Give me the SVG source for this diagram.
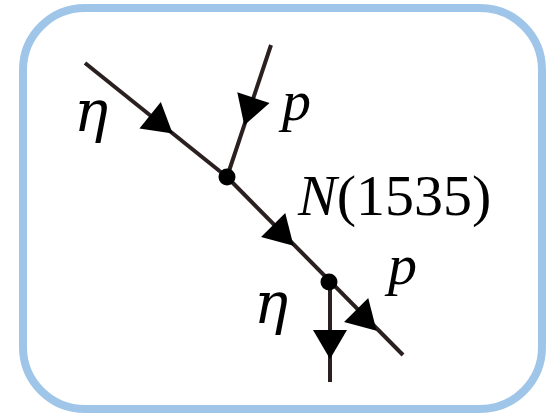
<svg xmlns="http://www.w3.org/2000/svg" xmlns:xlink="http://www.w3.org/1999/xlink" width="550" height="414" viewBox="0 0 550 414">
<style>
.frame{fill:#fff;stroke:#9fc5e8;stroke-width:8}
.ln{stroke:#2b2020;stroke-width:4;fill:none;stroke-linecap:butt}
.ah{fill:#000}
.dot{fill:#000}
.t{font-family:"Liberation Serif","Times New Roman",serif;font-size:58px;fill:#000}
.i{font-style:italic}
.g{font-family:"DejaVu Serif",serif;font-style:italic;font-size:57px;fill:#000}
</style>
<defs>
<path id="ah" d="M15,0 L-14,-17 L-14,17 Z"/>
</defs>
<rect class="frame" x="23" y="8" width="519" height="401" rx="62" ry="62"/>
<g id="connectors">
<line class="ln" x1="85" y1="63" x2="227" y2="177"/>
<line class="ln" x1="271" y1="45" x2="227" y2="177"/>
<line class="ln" x1="227" y1="177" x2="403" y2="355"/>
<line class="ln" x1="330" y1="282" x2="330" y2="382"/>
<use class="ah" xlink:href="#ah" transform="translate(161,124) rotate(39)"/>
<use class="ah" xlink:href="#ah" transform="translate(249,111) rotate(108.4)"/>
<use class="ah" xlink:href="#ah" transform="translate(283,235) rotate(45.3)"/>
<use class="ah" xlink:href="#ah" transform="translate(366,320) rotate(45.3)"/>
<use class="ah" xlink:href="#ah" transform="translate(330,344) rotate(90)"/>
</g>
<g id="v1"><circle class="dot" cx="227" cy="177" r="8.5"/></g>
<g id="v2"><circle class="dot" cx="329" cy="282" r="8.5"/></g>
<g id="label-eta-in"><text class="g" x="74" y="131">η</text></g>
<g id="label-p-in"><text class="t i" x="282" y="120">p</text></g>
<g id="label-N"><text class="t" x="298" y="215"><tspan class="i">N</tspan>(1535)</text></g>
<g id="label-eta-out"><text class="g" x="254" y="323">η</text></g>
<g id="label-p-out"><text class="t i" x="388" y="284">p</text></g>
</svg>
